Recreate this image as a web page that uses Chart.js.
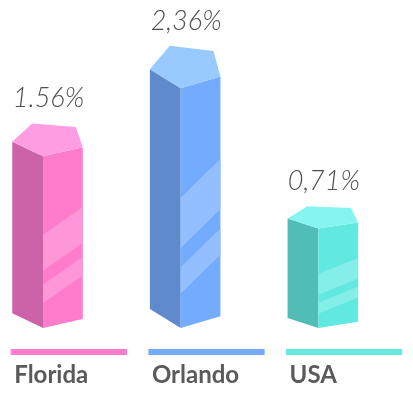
<!DOCTYPE html>
<html>
<head>
<meta charset="utf-8">
<script src="https://cdn.jsdelivr.net/npm/chart.js@4.4.1/dist/chart.umd.min.js"></script>
<style>
  html, body { margin: 0; padding: 0; background: #ffffff; }
  #wrap { width: 413px; height: 393px; position: relative; }
</style>
</head>
<body>
<div id="wrap"><canvas id="c"></canvas></div>
<script>
// ---- data ----
const categories = ['Florida', 'Orlando', 'USA'];
const values = [1.56, 2.36, 0.71];
const valueLabels = ['1.56%', '2,36%', '0,71%'];

// ---- styles ----
const frontColors  = ['#FF7BCB', '#73ABFF', '#60E8E1'];
const sideColors   = ['#CC63A8', '#5F8ACB', '#52BDB7'];
const topColors    = ['#FF9DE3', '#98C9FF', '#86F5F1'];
const stripeColors = ['#FF96D7', '#93BEFF', '#84EFE9'];
const lineColors   = ['#FF7BCB', '#75AAFF', '#62EAE1'];

function poly(ctx, pts, color) {
  ctx.beginPath();
  ctx.moveTo(pts[0][0], pts[0][1]);
  for (let k = 1; k < pts.length; k++) ctx.lineTo(pts[k][0], pts[k][1]);
  ctx.closePath();
  ctx.fillStyle = color;
  ctx.fill();
}

const prismPlugin = {
  id: 'prism',
  afterDatasetsDraw(chart) {
    const ctx = chart.ctx;
    const meta = chart.getDatasetMeta(0);
    meta.data.forEach((bar, i) => {
      const p = bar.getProps(['x', 'y', 'base', 'width'], true);
      const x = p.x, y = p.y, base = p.base, w = p.width;
      const h = base - y;
      const xl = x - w / 2 + 1.5;
      const xf = xl + 0.265 * w;
      const xr = xf + 0.342 * w;
      const tl = 0.065 * h + 3.5;
      const tr = 0.62 * tl;
      const d = 0.08 * h + 4.5;
      const d2 = d + 2;
      ctx.save();
      // left face
      poly(ctx, [[xl, y - tl], [xf, y], [xf, base], [xl, base - tl]], sideColors[i]);
      // front face
      const front = [[xf, y], [xr, y - tr], [xr, base - tr], [xf, base]];
      poly(ctx, front, frontColors[i]);
      // stripes clipped to front face
      ctx.save();
      ctx.beginPath();
      ctx.moveTo(front[0][0], front[0][1]);
      for (let k = 1; k < 4; k++) ctx.lineTo(front[k][0], front[k][1]);
      ctx.closePath();
      ctx.clip();
      const s = 0.17 * h;
      [[0.54, 0.33], [0.25, 0.14]].forEach(([f1, f2]) => {
        poly(ctx, [
          [xf - 1, base - f1 * h], [xr + 1, base - f1 * h - s],
          [xr + 1, base - f2 * h - s], [xf - 1, base - f2 * h]
        ], stripeColors[i]);
      });
      ctx.restore();
      // top pentagon
      const apex = y - tl - d;
      poly(ctx, [
        [xl, y - tl], [xl + 20 * w / 117, apex], [xr - 7 * w / 117, y - tr - d2],
        [xr, y - tr], [xf, y]
      ], topColors[i]);
      // value label
      ctx.fillStyle = '#4e4e4e';
      ctx.font = 'italic 300 27px Lato';
      ctx.textAlign = 'center';
      ctx.textBaseline = 'alphabetic';
      ctx.fillText(valueLabels[i], (xl + xr) / 2 + 1, apex - 16);
      // legend line + category label
      ctx.fillStyle = lineColors[i];
      ctx.fillRect(x - w / 2, base + 21, w, 6);
      ctx.fillStyle = '#5a5a5a';
      ctx.font = 'bold 24px Lato';
      ctx.textAlign = 'left';
      ctx.fillText(categories[i], x - w / 2 + 3.5, base + 55);
      ctx.restore();
    });
  }
};

function build() {
  new Chart(document.getElementById('c'), {
    type: 'bar',
    data: {
      labels: categories,
      datasets: [{
        data: values,
        base: -0.46,
        backgroundColor: 'rgba(0,0,0,0)',
        borderWidth: 0,
        categoryPercentage: 1,
        barPercentage: 0.844
      }]
    },
    options: {
      responsive: true,
      maintainAspectRatio: false,
      animation: false,
      devicePixelRatio: 1,
      layout: { padding: { top: 0, bottom: 65, left: 0, right: -3 } },
      plugins: { legend: { display: false }, tooltip: { enabled: false } },
      scales: {
        x: { display: false, offset: true },
        y: { display: false, min: -0.46, max: 3.4 }
      }
    },
    plugins: [prismPlugin]
  });
}

if (document.fonts && document.fonts.load) {
  Promise.all([
    document.fonts.load('italic 300 27px Lato'),
    document.fonts.load('bold 24px Lato')
  ]).then(build, build);
} else {
  build();
}
</script>
</body>
</html>
